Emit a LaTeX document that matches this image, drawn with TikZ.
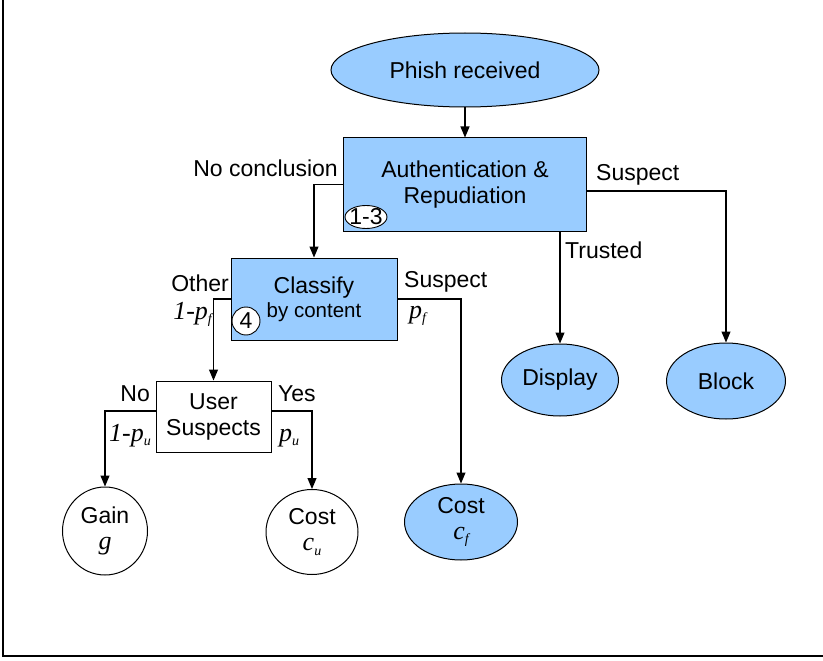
\documentclass[tikz,border=0pt]{standalone}
\usepackage{fontspec}
\setmainfont{Liberation Sans}
\newfontfamily\serifit{Liberation Serif}
\usetikzlibrary{shapes.geometric,arrows.meta}
\definecolor{phishblue}{RGB}{153,204,255}
\newcommand{\pvar}[2]{{\serifit\itshape\fontsize{26}{28}\selectfont #1\raisebox{-0.35ex}{\fontsize{14}{14}\selectfont #2}}}
\begin{document}
\begin{tikzpicture}[
    x=1pt, y=-1pt,
    every node/.style={font=\fontsize{23}{26}\selectfont, inner sep=0pt},
    stage/.style={draw, line width=1pt, fill=phishblue, rectangle, align=center},
    outcome/.style={draw, line width=1pt, fill=phishblue, ellipse, align=center},
    plain/.style={draw, line width=1pt, fill=white, align=center},
    badge/.style={draw, line width=0.9pt, fill=white, ellipse},
    flow/.style={draw, line width=1.2pt, -{Triangle[length=11pt,width=9pt]}}
]
\useasboundingbox (0,0) rectangle (823,661);
\draw[line width=2.5pt] (3,0) -- (3,656) -- (823,656);

\node[outcome, minimum width=268pt, minimum height=74pt] (phish) at (465,70) {Phish received};
\node[stage, minimum width=243pt, minimum height=93pt] (auth) at (465,184.5) {Authentication \&\\Repudiation};
\node[badge, minimum width=42pt, minimum height=23pt, label=center:1-3] (authstep) at (366,217) {};

\node[stage, minimum width=166pt, minimum height=82pt] (classify) at (314,299)
    {Classify\\[-2pt]{\fontsize{20.5}{23}\selectfont by content}};
\node[badge, circle, minimum size=28pt, label=center:4] (classstep) at (246,321) {};

\node[plain, rectangle, minimum width=115pt, minimum height=71pt] (user) at (213.5,416.5) {User\\Suspects};

\node[outcome, minimum width=117pt, minimum height=72pt] (display) at (560,380) {Display};
\node[outcome, minimum width=119pt, minimum height=76pt] (block) at (726,381) {Block};
\node[outcome, minimum width=113pt, minimum height=76pt] (costf) at (461,522) {Cost\\\pvar{c}{f}};
\node[plain, ellipse, minimum width=85pt, minimum height=88pt] (gain) at (105,531) {Gain\\{\serifit\itshape\fontsize{26}{28}\selectfont g}};
\node[plain, ellipse, minimum width=92pt, minimum height=85pt] (costu) at (312,532) {Cost\\\pvar{c}{u}};

\draw[flow] (phish) -- (auth);
\draw[flow] (auth.west) -| (classify.north);
\draw[flow] ([yshift=-6.5pt]auth.east) -| (block.north);
\draw[flow] (auth.south -| display.north) -- (display.north);
\draw[flow] (classify.west) -| (user.north);
\draw[flow] (classify.east) -| (costf.north);
\draw[flow] ([yshift=5.5pt]user.west) -| (gain.north);
\draw[flow] ([yshift=5.5pt]user.east) -| (costu.north);

\node[anchor=east] (nolbl) at (338,168) {No conclusion};
\node[anchor=west] (authsuspect) at (596,175) {Suspect};
\node[anchor=west] (trusted) at (565,250) {Trusted};
\node[anchor=east] (other) at (229,283) {Other};
\node[anchor=east] (otherp) at (212,314) {\pvar{1-p}{f}};
\node[anchor=west] (classsuspect) at (404,282) {Suspect};
\node[anchor=west] (suspectp) at (409,316) {\pvar{p}{f}};
\node[anchor=east] (nousr) at (150,394) {No};
\node[anchor=east] (nousrp) at (151,436) {\pvar{1-p}{u}};
\node[anchor=west] (yesusr) at (278,394) {Yes};
\node[anchor=west] (yesusrp) at (279,438) {\pvar{p}{u}};
\end{tikzpicture}
\end{document}
